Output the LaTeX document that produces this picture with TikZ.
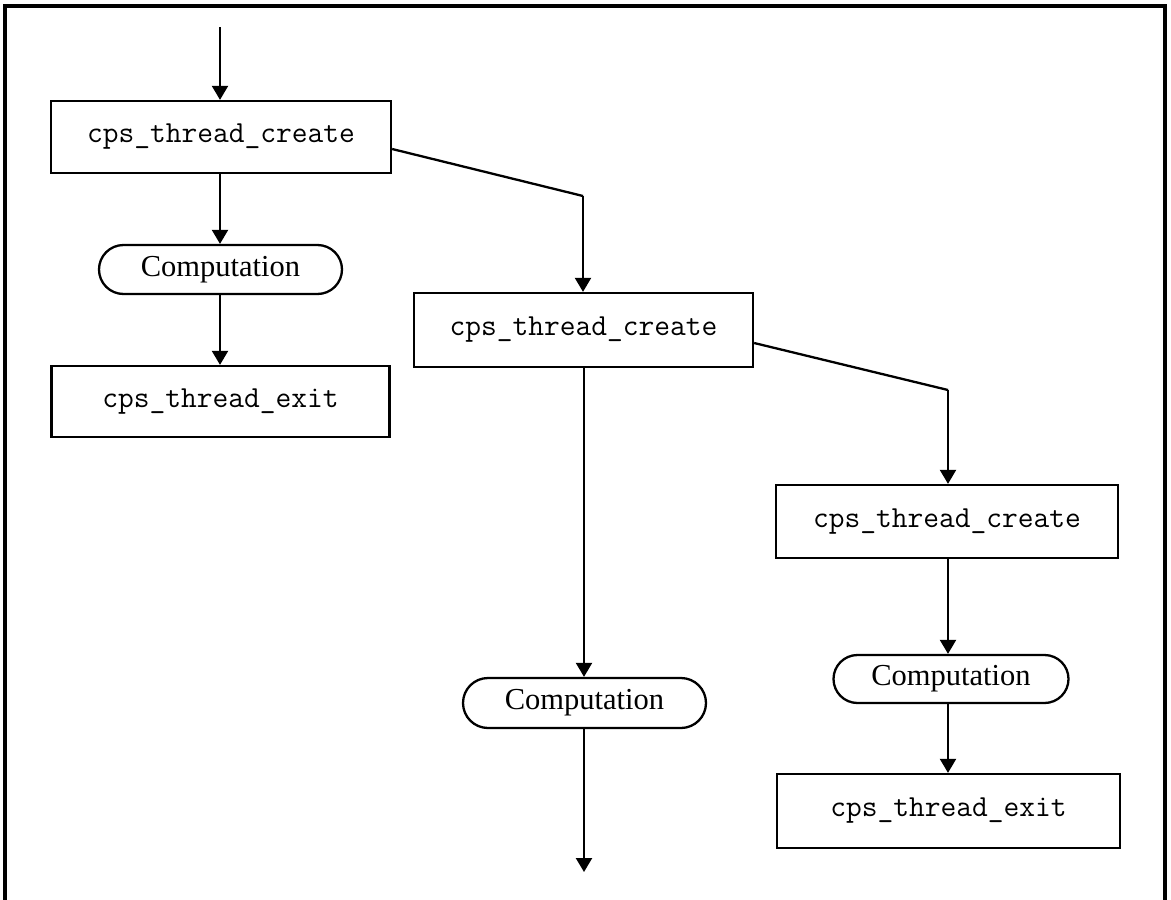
\documentclass[tikz,border=0pt]{standalone}
\usepackage{fontspec}
\setmainfont{Liberation Serif}
\usetikzlibrary{arrows.meta,calc,shapes.misc}
\begin{document}
\begin{tikzpicture}[x=1pt,y=-1pt,
  call/.style={draw,line width=2.3pt,rectangle,minimum height=72pt,
    inner sep=0pt,font=\fontsize{30.6}{34}\selectfont\ttfamily},
  work/.style={draw,line width=2.3pt,rounded rectangle,minimum height=49pt,
    inner sep=0pt,font=\fontsize{30.5}{34}\selectfont\rmfamily},
  flow/.style={line width=2.3pt,-{Triangle[length=14pt,width=16pt]}},
  link/.style={line width=2.3pt}]
\useasboundingbox (0,0) rectangle (1171,900);
% frame, open at the bottom
\draw[line width=4pt] (5,900) -- (5,6) -- (1165,6) -- (1165,900);

% first thread
\node[call,minimum width=340pt] (c1) at (221,137) {cps\_thread\_create};
\node[work,minimum width=243pt] (w1) at (220.5,269.5) {Computation};
\node[call,minimum width=338pt,minimum height=71pt] (e1) at (220.5,401.5) {cps\_thread\_exit};

% second thread
\node[call,minimum width=339pt,minimum height=74pt] (c2) at (583.5,330) {cps\_thread\_create};
\node[work,minimum width=243pt,minimum height=50pt] (w2) at (584.5,703) {Computation};

% third thread
\node[call,minimum width=342pt,minimum height=73pt] (c3) at (947,521.5) {cps\_thread\_create};
\node[work,minimum width=235pt,minimum height=48pt] (w3) at (951,679) {Computation};
\node[call,minimum width=343pt,minimum height=74pt] (e3) at (948.5,811) {cps\_thread\_exit};

% free ends and bends
\coordinate (start) at (220,27);
\coordinate (k1) at (583,196);
\coordinate (k2) at (948,390);
\coordinate (end2) at (584,872);

% connectors
\draw[flow] (start) -- (start |- c1.north);
\draw[flow] (c1.south -| start) -- (w1.north -| start);
\draw[flow] (w1.south -| start) -- (e1.north -| start);

\draw[link] ($(c1.east)+(0,12)$) -- (k1);
\draw[flow] (k1) -- (k1 |- c2.north);
\draw[flow] (c2.south -| end2) -- (w2.north -| end2);
\draw[flow] (w2.south -| end2) -- (end2);

\draw[link] ($(c2.east)+(0,13)$) -- (k2);
\draw[flow] (k2) -- (k2 |- c3.north);
\draw[flow] (c3.south -| k2) -- (w3.north -| k2);
\draw[flow] (w3.south -| k2) -- (e3.north -| k2);
\end{tikzpicture}
\end{document}
